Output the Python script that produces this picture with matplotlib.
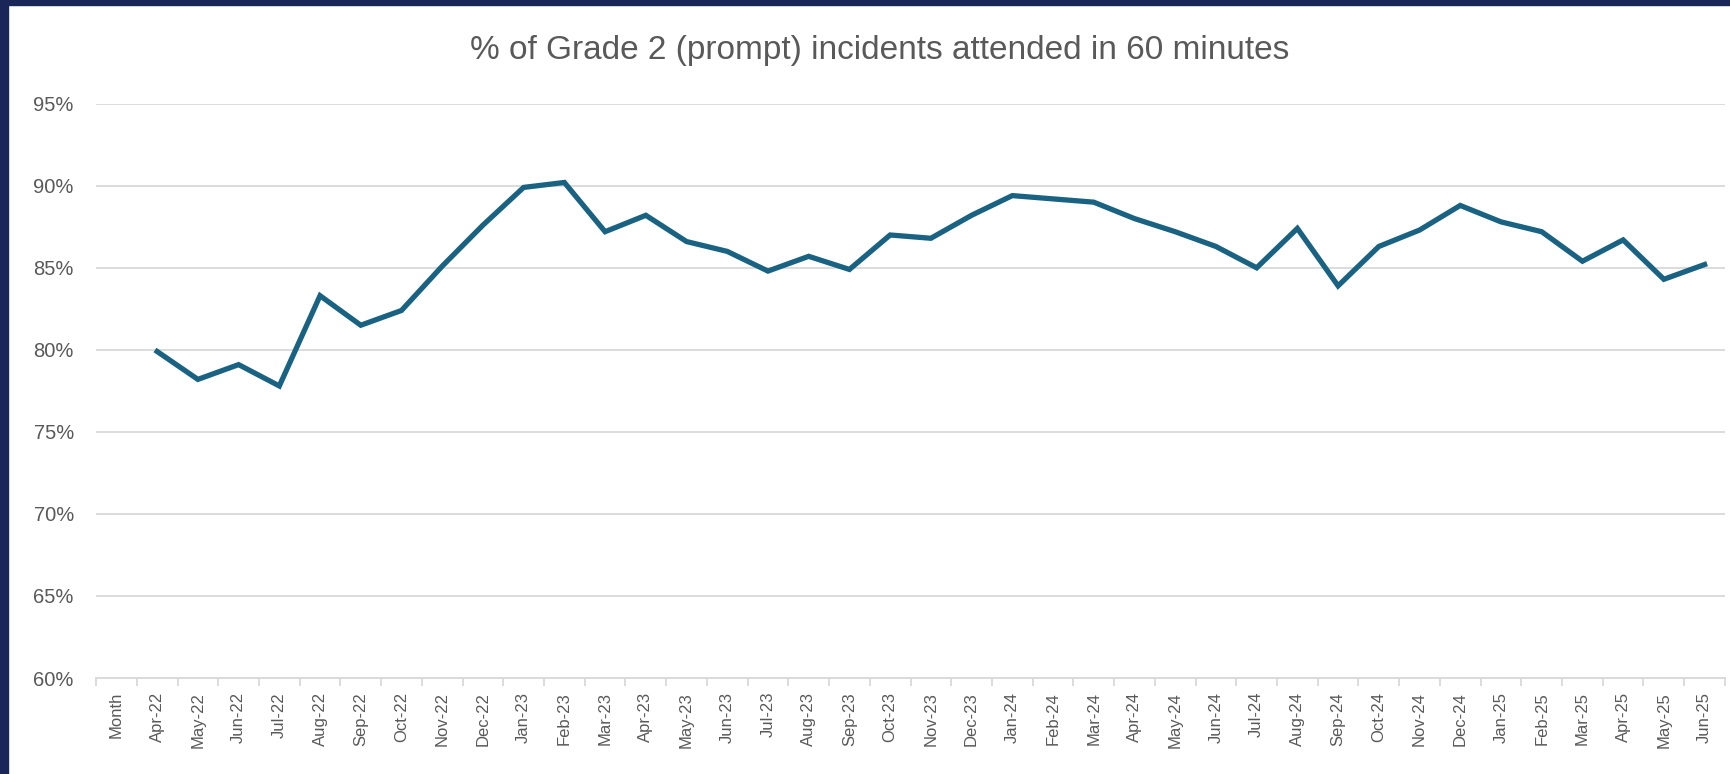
import numpy as np
import matplotlib.pyplot as plt
from matplotlib.ticker import FixedLocator, PercentFormatter

months = ['Month',
          'Apr-22', 'May-22', 'Jun-22', 'Jul-22', 'Aug-22', 'Sep-22', 'Oct-22', 'Nov-22', 'Dec-22',
          'Jan-23', 'Feb-23', 'Mar-23', 'Apr-23', 'May-23', 'Jun-23', 'Jul-23', 'Aug-23', 'Sep-23',
          'Oct-23', 'Nov-23', 'Dec-23', 'Jan-24', 'Feb-24', 'Mar-24', 'Apr-24', 'May-24', 'Jun-24',
          'Jul-24', 'Aug-24', 'Sep-24', 'Oct-24', 'Nov-24', 'Dec-24', 'Jan-25', 'Feb-25', 'Mar-25',
          'Apr-25', 'May-25', 'Jun-25']

# % attended in 60 minutes ("Month" header column has no value)
attended = [np.nan,
            79.9, 78.2, 79.1, 77.8, 83.3, 81.5, 82.4, 85.1, 87.6,
            89.9, 90.2, 87.2, 88.2, 86.6, 86.0, 84.8, 85.7, 84.9,
            87.0, 86.8, 88.2, 89.4, 89.2, 89.0, 88.0, 87.2, 86.3,
            85.0, 87.4, 83.9, 86.3, 87.3, 88.8, 87.8, 87.2, 85.4,
            86.7, 84.3, 85.2]

y_ticks = [60, 65, 70, 75, 80, 85, 90, 95]

TEXT = '#595959'
GRID = '#d9d9d9'
LINE = '#1a6282'
NAVY = '#1a2657'

fig = plt.figure(figsize=(17.31, 7.74), dpi=100)
fig.patch.set_facecolor('white')

# dark frame along top and left edge
fig.patches.append(plt.Rectangle((0, 0), 8 / 1731, 1, transform=fig.transFigure,
                                 color=NAVY, zorder=0))
fig.patches.append(plt.Rectangle((0, 1 - 5 / 774), 1, 5 / 774, transform=fig.transFigure,
                                 color=NAVY, zorder=0))

ax = fig.add_axes([0.0555, 0.124, 0.941, 0.742])
x = np.arange(len(months))
ax.plot(x, attended, color=LINE, lw=3.8, solid_joinstyle='miter', zorder=3)

ax.set_xlim(-0.5, len(months) - 0.5)
ax.set_ylim(60, 95)
ax.set_yticks(y_ticks)
ax.yaxis.set_major_formatter(PercentFormatter(decimals=0))
ax.grid(axis='y', color=GRID, lw=1.3)
ax.set_axisbelow(True)

ax.set_xticks(x)
ax.set_xticklabels(months, rotation=90, family=['Liberation Sans'], fontsize=12, color=TEXT)
ax.xaxis.set_minor_locator(FixedLocator(np.arange(-0.5, len(months), 1.0)))
ax.tick_params(axis='x', which='major', length=0, pad=10)
ax.tick_params(axis='x', which='minor', length=6, width=1.3, color=GRID)
ax.tick_params(axis='y', length=0, pad=16, labelcolor=TEXT, labelsize=14.5)
for lab in ax.get_yticklabels():
    lab.set_family(['Liberation Sans'])

for side in ['top', 'right', 'left']:
    ax.spines[side].set_visible(False)
ax.spines['bottom'].set_color(GRID)
ax.spines['bottom'].set_linewidth(1.3)

fig.text(0.508, 0.935, '% of Grade 2 (prompt) incidents attended in 60 minutes',
         ha='center', va='center', fontsize=24, color=TEXT, family=['Liberation Sans'])

fig.savefig('out.png', dpi=100, facecolor='white')
